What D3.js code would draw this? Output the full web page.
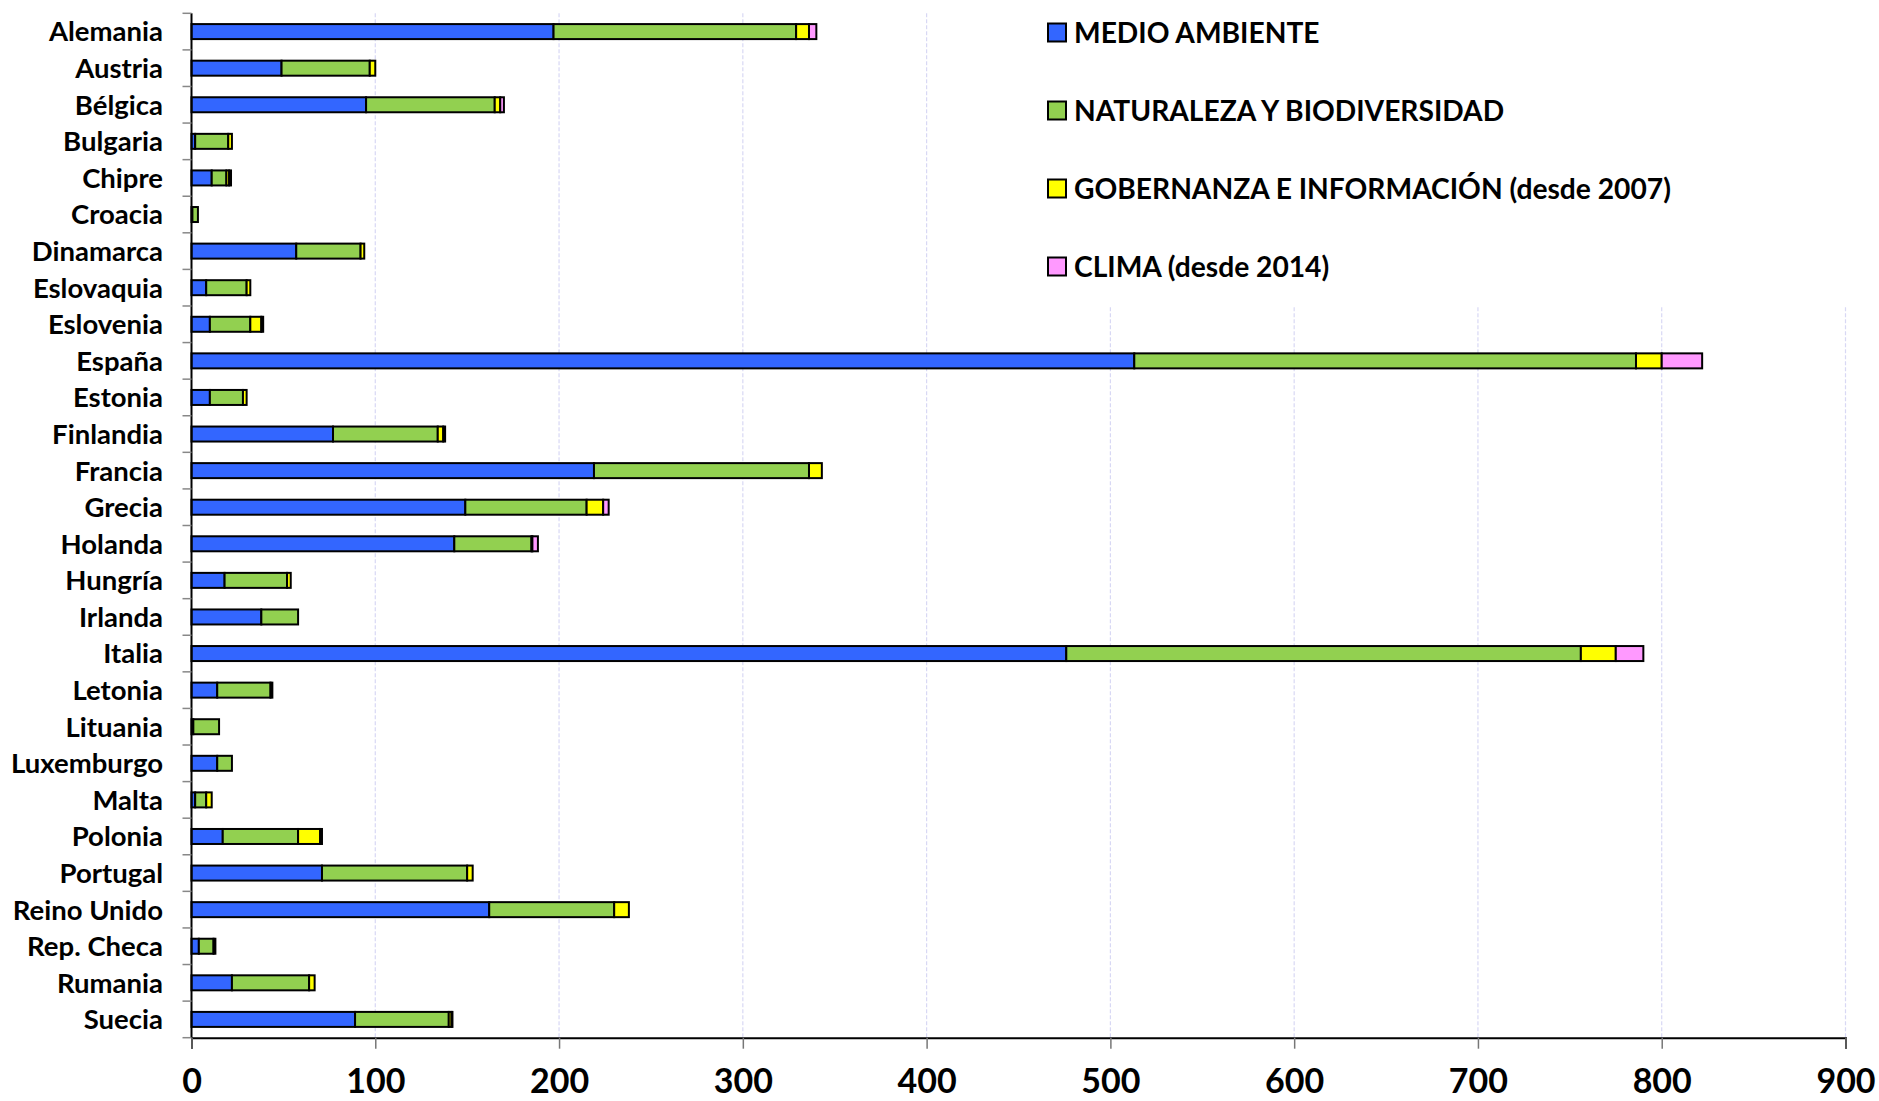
<!DOCTYPE html>
<html><head><meta charset="utf-8">
<script src="https://cdn.jsdelivr.net/npm/d3@7"></script>
<style>
html,body{margin:0;padding:0;background:#fff;}
svg text{font-family:Lato,"Open Sans",sans-serif;font-weight:bold;fill:#000;}
</style></head>
<body><svg id="chart" width="1879" height="1101"></svg>
<script>
const categories = ["Alemania","Austria","Bélgica","Bulgaria","Chipre","Croacia","Dinamarca","Eslovaquia","Eslovenia","España","Estonia","Finlandia","Francia","Grecia","Holanda","Hungría","Irlanda","Italia","Letonia","Lituania","Luxemburgo","Malta","Polonia","Portugal","Reino Unido","Rep. Checa","Rumania","Suecia"];
const medioAmbiente = [197,49,95,2,11,0.5,57,8,10,513,10,77,219,149,143,18,38,476,14,1,14,2,17,71,162,4,22,89];
const naturaleza   = [132,48,70,18,8,3,35,22,22,273,18,57,117,66,42,34,20,280,29,14,8,6,41,79,68,8,42,51];
const gobernanza   = [7,3,3,2,1.5,0,2,2,6,14,2,3,7,9,0.5,2,0,19,1,0,0,3,12,3,8,1,3,1.5];
const clima        = [4,0,2,0,1,0,0,0,1,22,0,1,0,3,3,0,0,15,0,0,0,0,1,0,0,0,0,0.5];
const seriesNames = ["MEDIO AMBIENTE","NATURALEZA Y BIODIVERSIDAD","GOBERNANZA E INFORMACIÓN (desde 2007)","CLIMA (desde 2014)"];
const seriesColors = ["#3366FF","#92D050","#FFFF00","#FF99FF"];
const xTicks = [0,100,200,300,400,500,600,700,800,900];

const svg = d3.select("#chart");
const mLeft = 191.5, mRight = 1845.5, mTop = 13.3, mBottom = 1037.7;
const x = d3.scaleLinear().domain([0,900]).range([mLeft,mRight]);
const y = d3.scaleBand().domain(categories).range([mTop,mBottom]).paddingInner(0.59).paddingOuter(0.295);

const table = categories.map((c,i)=>({cat:c, s0:medioAmbiente[i], s1:naturaleza[i], s2:gobernanza[i], s3:clima[i]}));
const stack = d3.stack().keys(["s0","s1","s2","s3"])(table);

// gridlines
svg.append("g").selectAll("line").data(xTicks.filter(d=>d>0)).join("line")
  .attr("x1",d=>x(d)).attr("x2",d=>x(d)).attr("y1",mTop).attr("y2",mBottom)
  .attr("stroke","#d8d8f4").attr("stroke-width",1.2).attr("stroke-dasharray","4,2");

// legend background covering gridlines
svg.append("rect").attr("x",1035).attr("y",0).attr("width",844).attr("height",307).attr("fill","#fff");

// bars
const g = svg.append("g");
stack.forEach((layer,k)=>{
  g.append("g").selectAll("rect").data(layer.filter(d=>d[1]-d[0]>0)).join("rect")
    .attr("x",d=>x(d[0])).attr("width",d=>x(d[1])-x(d[0]))
    .attr("y",d=>y(d.data.cat)).attr("height",y.bandwidth())
    .attr("fill",seriesColors[k]).attr("stroke","#000").attr("stroke-width",2);
});

// x axis
const xAxis = svg.append("g").attr("transform",`translate(0,${mBottom})`)
  .call(d3.axisBottom(x).tickValues(xTicks).tickSize(11).tickPadding(20));
xAxis.select(".domain").attr("stroke","#000").attr("stroke-width",2);
xAxis.selectAll(".tick line").attr("stroke","#777").attr("stroke-width",1.5);
xAxis.selectAll("text").attr("font-size",34).attr("fill","#000").attr("font-family","Lato, sans-serif").attr("font-weight","bold");

// y axis: line, boundary ticks, labels
svg.append("line").attr("x1",mLeft).attr("x2",mLeft).attr("y1",mTop).attr("y2",mBottom).attr("stroke","#000").attr("stroke-width",2);
const bounds = d3.range(categories.length+1).map(i=>mTop+i*y.step());
svg.append("g").selectAll("line").data(bounds).join("line")
  .attr("x1",mLeft-9).attr("x2",mLeft).attr("y1",d=>d).attr("y2",d=>d)
  .attr("stroke","#888").attr("stroke-width",1.5);
svg.append("g").selectAll("text").data(categories).join("text")
  .attr("x",163).attr("y",d=>y(d)+y.bandwidth()/2).attr("dy","0.36em")
  .attr("text-anchor","end").attr("font-size",27.5).text(d=>d);

// legend
const lg = svg.append("g");
seriesNames.forEach((name,i)=>{
  const cy = 33 + i*78;
  lg.append("rect").attr("x",1048).attr("y",cy-9.5).attr("width",18).attr("height",18)
    .attr("fill",seriesColors[i]).attr("stroke","#000").attr("stroke-width",2);
  lg.append("text").attr("x",1074).attr("y",cy).attr("dy","0.36em").attr("font-size",28.2).text(name);
});
</script></body></html>
